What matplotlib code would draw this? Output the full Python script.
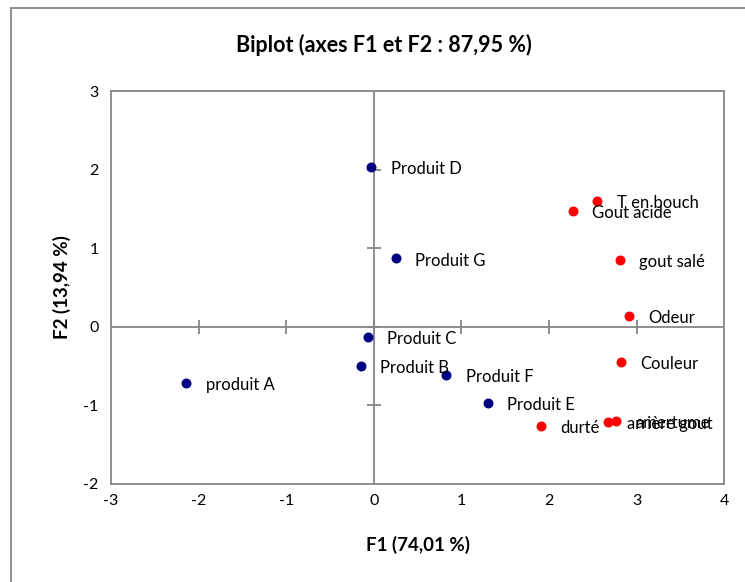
import matplotlib.pyplot as plt
from matplotlib.lines import Line2D

plt.rcParams['font.family'] = ['Lato', 'DejaVu Sans']
plt.rcParams['axes.unicode_minus'] = False

# Observations (products) on F1 / F2
produits = ['produit A', 'Produit B', 'Produit C', 'Produit D',
            'Produit E', 'Produit F', 'Produit G']
prod_f1 = [-2.14, -0.15, -0.07, -0.03, 1.30, 0.83, 0.25]
prod_f2 = [-0.715, -0.50, -0.13, 2.03, -0.97, -0.61, 0.87]

# Variables (sensory descriptors) on F1 / F2
variables = ['T en bouch', 'Gout acide', 'gout salé', 'Odeur',
             'Couleur', 'arrière gout', 'amertume', 'durté']
var_f1 = [2.55, 2.27, 2.81, 2.91, 2.82, 2.67, 2.77, 1.91]
var_f2 = [1.60, 1.47, 0.85, 0.14, -0.45, -1.21, -1.20, -1.26]

xticks = [-3, -2, -1, 0, 1, 2, 3, 4]
yticks = [-2, -1, 0, 1, 2, 3]

grey = '#868686'

fig = plt.figure(figsize=(7.45, 5.82), dpi=100)
ax = fig.add_axes([0.149, 0.1684, 0.823, 0.6752])

ax.set_xlim(-3, 4)
ax.set_ylim(-2, 3)

for sp in ax.spines.values():
    sp.set_color(grey)
    sp.set_linewidth(1.3)

# zero axes with crossing tick marks
ax.axhline(0, color=grey, lw=1.3, zorder=1)
ax.axvline(0, color=grey, lw=1.3, zorder=1)
ax.plot(xticks[1:-1], [0] * (len(xticks) - 2), ls='none', marker='|',
        ms=10, mew=1.3, color=grey, zorder=1)
ax.plot([0] * (len(yticks) - 2), yticks[1:-1], ls='none', marker='_',
        ms=10, mew=1.3, color=grey, zorder=1)

ax.set_xticks(xticks)
ax.set_yticks(yticks)
ax.tick_params(length=0, labelsize=11.5)
ax.tick_params(axis='x', pad=7)
ax.tick_params(axis='y', pad=9)

ax.scatter(prod_f1, prod_f2, s=38, color='#000080', zorder=3)
ax.scatter(var_f1, var_f2, s=38, color='#ff0000', zorder=3)

for name, x, y in zip(produits, prod_f1, prod_f2):
    ax.annotate(name, (x, y), xytext=(14, -1.5), textcoords='offset points',
                va='center', ha='left', fontsize=12)
for name, x, y in zip(variables, var_f1, var_f2):
    ax.annotate(name, (x, y), xytext=(14, -1.5), textcoords='offset points',
                va='center', ha='left', fontsize=12)

ax.set_xlabel('F1 (74,01 %)', fontsize=13.5, fontweight='bold', labelpad=20)
ax.set_ylabel('F2 (13,94 %)', fontsize=13.5, fontweight='bold', labelpad=9)

fig.text(384 / 745, 1 - 45 / 582, 'Biplot (axes F1 et F2 : 87,95 %)',
         ha='center', va='center', fontsize=15.5, fontweight='bold')

# chart area border
fig.add_artist(Line2D([11 / 745, 11 / 745], [0, 1 - 8 / 582],
                      transform=fig.transFigure, color=grey, lw=1.3))
fig.add_artist(Line2D([11 / 745, 1], [1 - 8 / 582, 1 - 8 / 582],
                      transform=fig.transFigure, color=grey, lw=1.3))

fig.savefig('out.png', dpi=100)
